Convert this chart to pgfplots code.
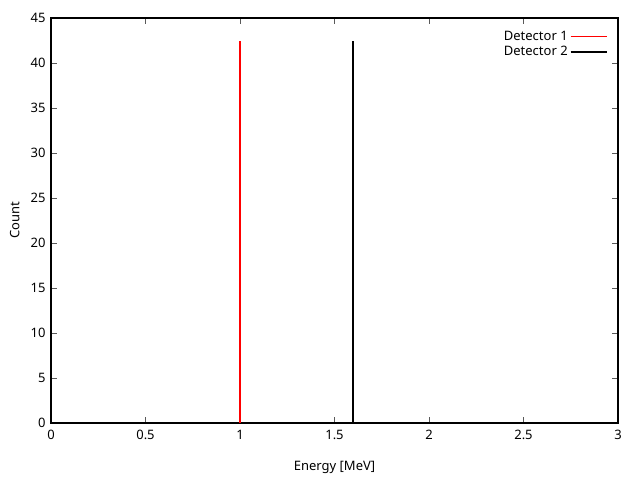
\documentclass[border=0pt]{standalone}
\usepackage{pgfplots}
\pgfplotsset{compat=1.18}
\usepackage{fontspec}
\setmainfont{Noto Sans}
\begin{document}
\fontsize{13}{15}\selectfont
\begin{tikzpicture}[x=1pt,y=1pt]
\path[use as bounding box] (-51,-57) rectangle (589,423);
\begin{axis}[
  at={(0,0)}, anchor=origin,
  scale only axis, width=567pt, height=405pt,
  xmin=0, xmax=3, ymin=0, ymax=45,
  xtick={0,0.5,...,3}, ytick={0,5,...,45},
  tick align=inside, major tick length=6pt,
  tick style={gray!70!black, line width=0.8pt},
  axis line style={line width=1.2pt},
  /pgf/number format/assume math mode=true,
  xticklabel style={yshift=-3pt},
  yticklabel style={xshift=-1pt},
  xlabel={Energy [MeV]}, ylabel={Count},
  xlabel style={at={(axis description cs:0.5,-0.109)}, anchor=center},
  ylabel style={at={(axis description cs:-0.064,0.5)}, anchor=center},
  legend plot pos=right,
  legend cell align=right,
  legend style={at={(axis cs:2.945,43.8)}, anchor=north east, draw=none, fill=none,
    row sep=0pt, inner sep=0pt},
]
\addlegendimage{legend image code/.code={\draw[red, line width=1.7pt] (0pt,0pt) -- (36pt,0pt);}}
\addlegendentry{Detector 1}
\addlegendimage{legend image code/.code={\draw[black, line width=1.7pt] (0pt,0pt) -- (36pt,0pt);}}
\addlegendentry{Detector 2}
\addplot[red, line width=1.7pt, forget plot] coordinates {(1,0) (1,42.4)};
\addplot[black, line width=1.9pt, forget plot] coordinates {(1.6,0) (1.6,42.4)};
\end{axis}
\end{tikzpicture}
\end{document}
